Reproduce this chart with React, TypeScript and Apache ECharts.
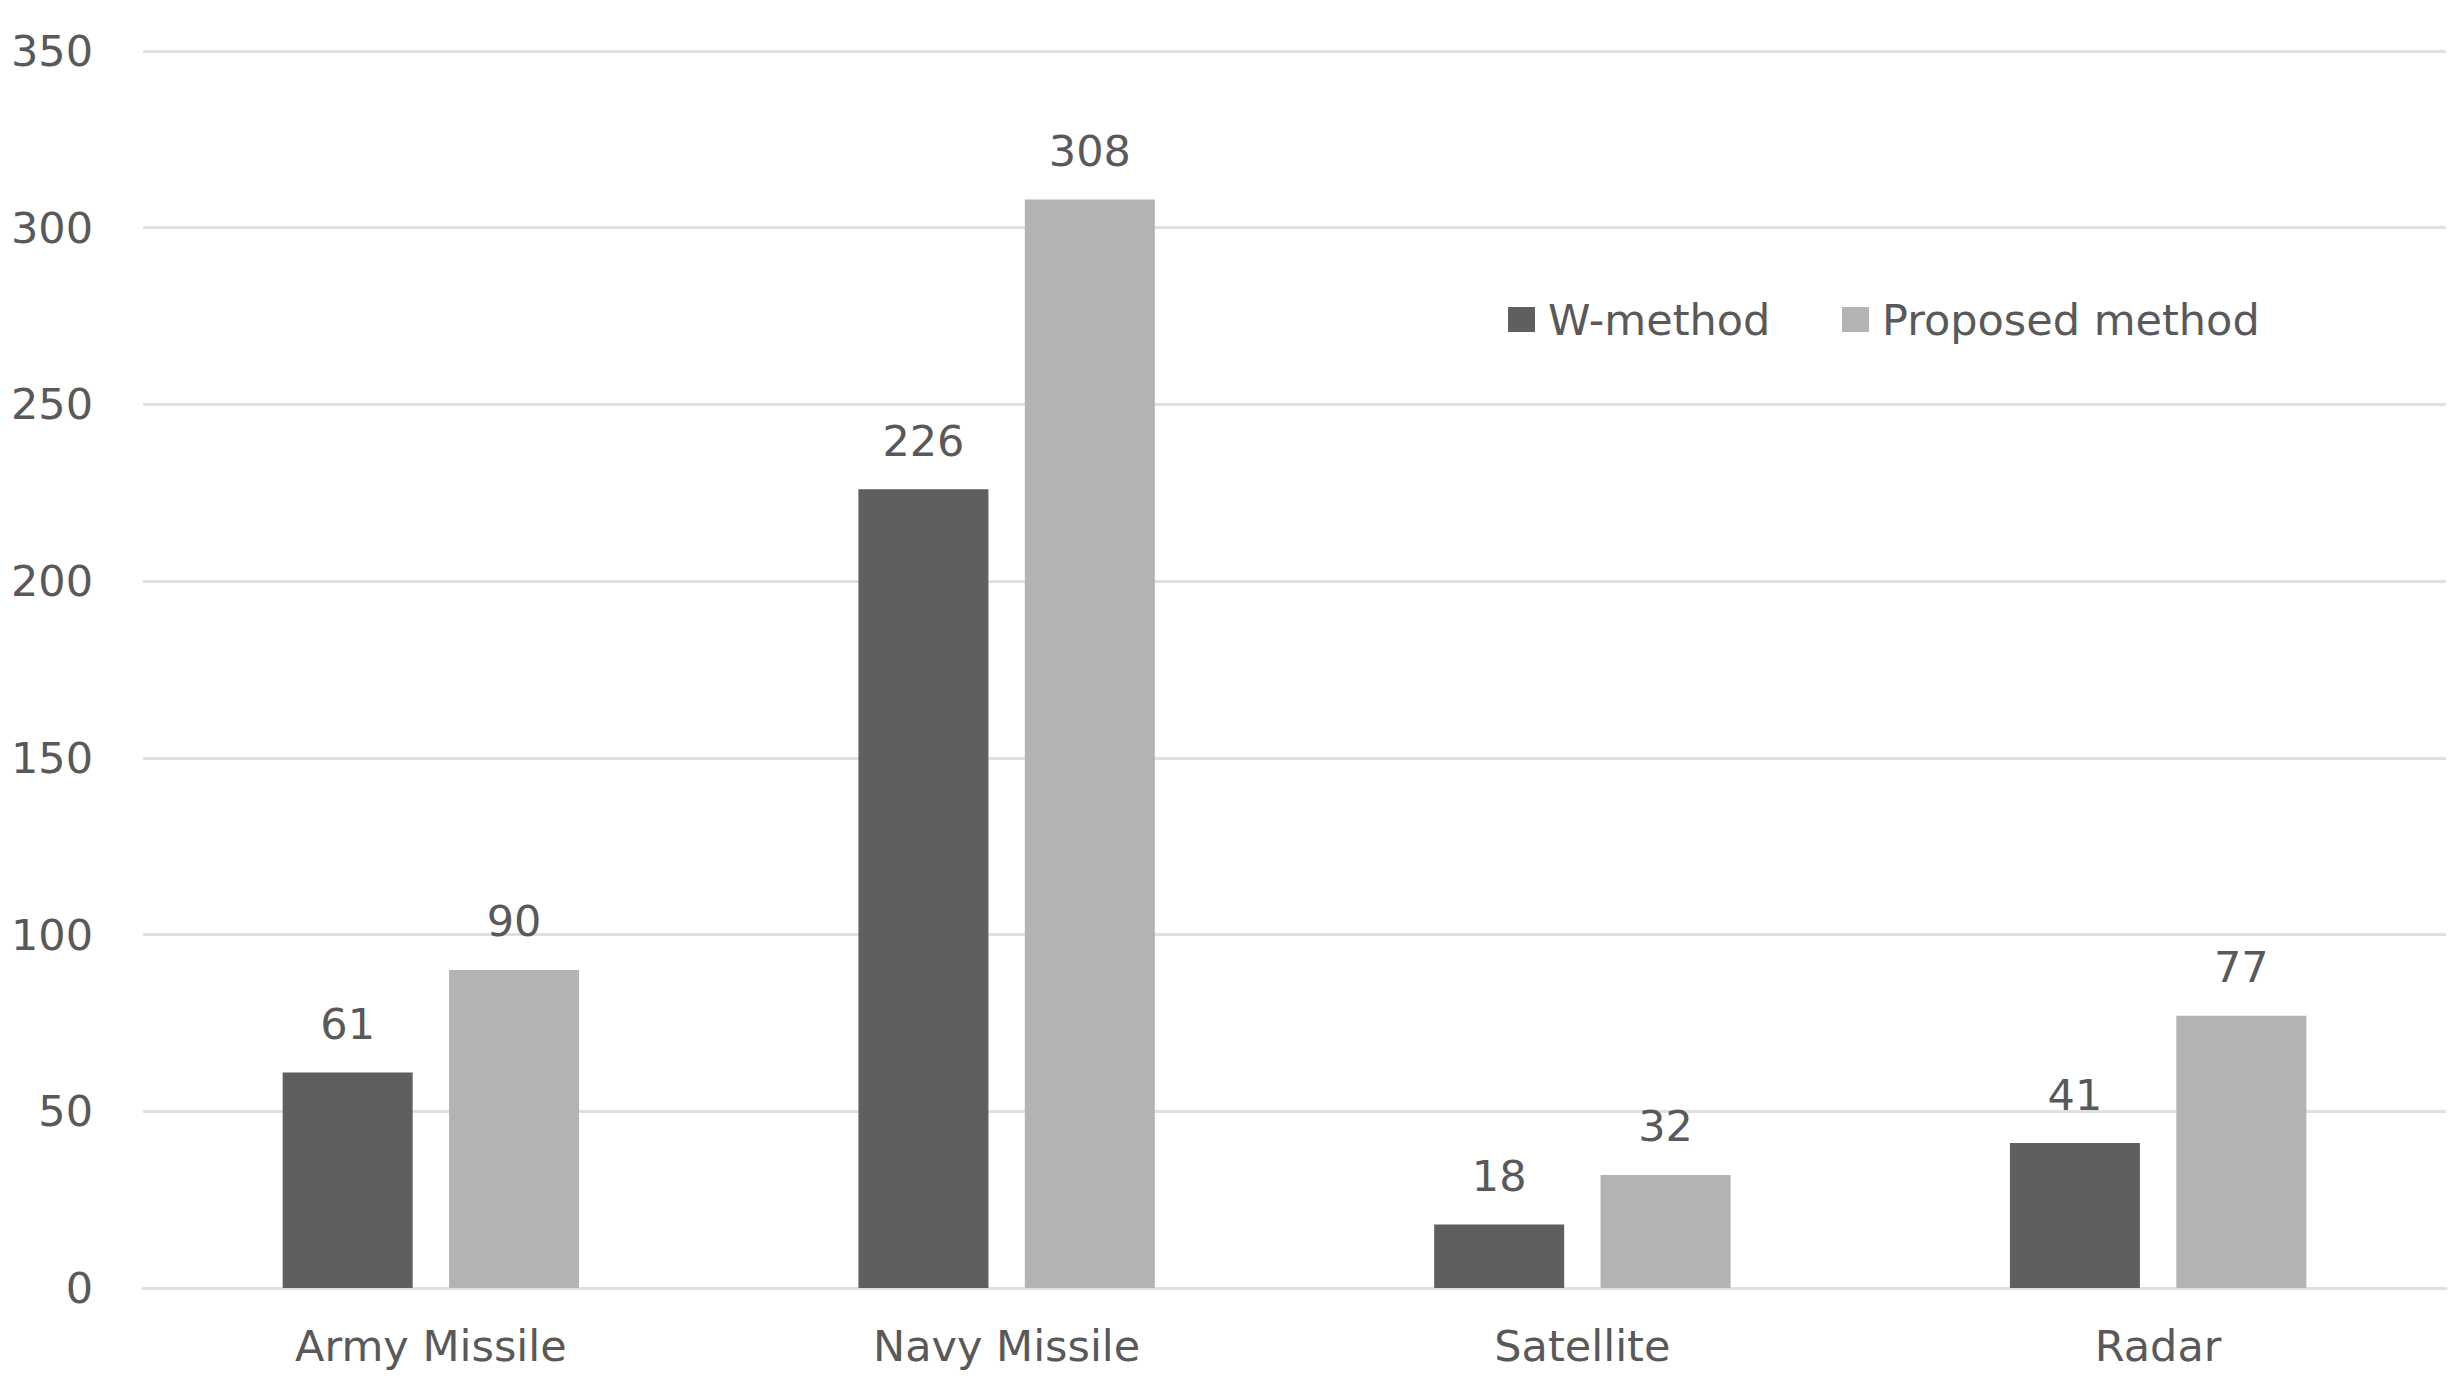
import React, { useEffect, useRef } from "react";
import * as echarts from "echarts";

const categories = ["Army Missile", "Navy Missile", "Satellite", "Radar"];
const wMethod = [61, 226, 18, 41];
const proposed = [90, 308, 32, 77];
const seriesNames = ["W-method", "Proposed method"];
const yTicks = { min: 0, max: 350, interval: 50 };

const FONT = "DejaVu Sans";
const TEXT = "#595959";
const DARK = "#5f5f5f";
const LIGHT = "#b3b3b3";
const GRID = "#e0e0e0";

export default function App() {
  const ref = useRef<HTMLDivElement>(null);
  useEffect(() => {
    document.body.style.margin = "0";
    const chart = echarts.init(ref.current!, null, { renderer: "svg" });
    const label = {
      show: true,
      position: "top",
      distance: 27,
      color: TEXT,
      fontSize: 43,
      fontFamily: FONT,
    };
    chart.setOption({
      animation: false,
      backgroundColor: "#ffffff",
      grid: { left: 143, right: 16, top: 51, bottom: 96, containLabel: false },
      legend: [
        {
          data: [seriesNames[0]],
          left: 1508,
          top: 298,
          padding: 0,
          icon: "rect",
          itemWidth: 27,
          itemHeight: 25,
          textStyle: { color: TEXT, fontSize: 43, fontFamily: FONT, padding: [0, 0, 0, 8] },
        },
        {
          data: [seriesNames[1]],
          left: 1842,
          top: 298,
          padding: 0,
          icon: "rect",
          itemWidth: 27,
          itemHeight: 25,
          textStyle: { color: TEXT, fontSize: 43, fontFamily: FONT, padding: [0, 0, 0, 8] },
        },
      ],
      xAxis: {
        type: "category",
        data: categories,
        axisLine: { show: true, lineStyle: { color: GRID, width: 3 } },
        axisTick: { show: false },
        axisLabel: { color: TEXT, fontSize: 43, fontFamily: FONT, margin: 36 },
      },
      yAxis: {
        type: "value",
        min: yTicks.min,
        max: yTicks.max,
        interval: yTicks.interval,
        axisLine: { show: false },
        axisTick: { show: false },
        splitLine: { show: true, lineStyle: { color: GRID, width: 3 } },
        axisLabel: { color: TEXT, fontSize: 43, fontFamily: FONT, margin: 50 },
      },
      series: [
        {
          name: seriesNames[0],
          type: "bar",
          data: wMethod,
          barWidth: 130,
          barGap: "28%",
          itemStyle: { color: DARK },
          label,
        },
        {
          name: seriesNames[1],
          type: "bar",
          data: proposed,
          barWidth: 130,
          barGap: "28%",
          itemStyle: { color: LIGHT },
          label,
        },
      ],
    });
    return () => chart.dispose();
  }, []);
  return <div ref={ref} style={{ width: 2462, height: 1384 }} />;
}
